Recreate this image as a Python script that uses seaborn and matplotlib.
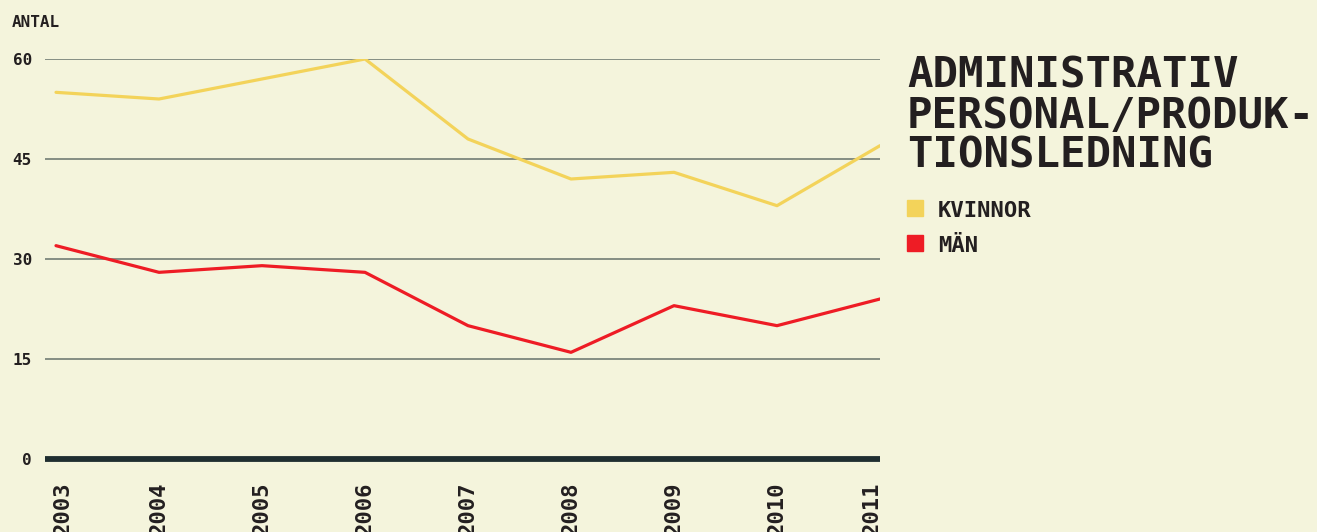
import matplotlib
matplotlib.use("Agg")
import matplotlib.pyplot as plt
import matplotlib.transforms as mtransforms
from matplotlib.patches import Rectangle
import seaborn as sns
import pandas as pd

years = [2003, 2004, 2005, 2006, 2007, 2008, 2009, 2010, 2011]
kvinnor = [55, 54, 57, 60, 48, 42, 43, 38, 47]
man = [32, 28, 29, 28, 20, 16, 23, 20, 24]
series_names = ["KVINNOR", "MÄN"]
y_ticks = [0, 15, 30, 45, 60]
title_lines = ["ADMINISTRATIV", "PERSONAL/PRODUK-", "TIONSLEDNING"]
y_label = "ANTAL"

BG = "#f4f4dc"
TXT = "#231f20"
YEL = "#f3d35a"
RED = "#ee1c25"
GRID = "#7c867c"
ZERO = "#1f2e30"

sns.set_theme(style="white")
plt.rcParams["font.family"] = ["DejaVu Sans Mono"]
plt.rcParams["font.weight"] = "bold"

W, H = 1317, 532
fig = plt.figure(figsize=(W / 100, H / 100), dpi=100, facecolor=BG)
ax = fig.add_axes([45 / W, 1 - 459 / H, (880 - 45) / W, 400 / H])
ax.set_facecolor(BG)

df = pd.DataFrame({
    "year": years * 2,
    "value": kvinnor + man,
    "series": [series_names[0]] * len(years) + [series_names[1]] * len(years),
})
sns.lineplot(data=df, x="year", y="value", hue="series",
             palette={series_names[0]: YEL, series_names[1]: RED},
             linewidth=2.3, ax=ax, legend=False, zorder=3)

ax.set_xlim(years[0] - 11 / 103, years[-1])
ax.set_ylim(0, 60)
for s in ax.spines.values():
    s.set_visible(False)

ax.set_yticks(y_ticks)
ax.set_yticklabels([str(v) for v in y_ticks])
ax.yaxis.grid(True, color=GRID, linewidth=1.3)
ax.xaxis.grid(False)
ax.axhline(0, color=ZERO, linewidth=4.2, clip_on=False, zorder=4,
           solid_capstyle="butt")
ax.tick_params(axis="y", length=0, pad=9.4, labelsize=11.5, labelcolor=TXT)
ax.set_xticks(years)
ax.set_xticklabels([str(y) for y in years], rotation=90)
ax.tick_params(axis="x", length=0, pad=16.5, labelsize=16, labelcolor=TXT)
for lab in ax.get_xticklabels():
    lab.set_fontweight("bold")
for lab in ax.get_yticklabels():
    lab.set_fontweight("bold")
labs = ax.get_xticklabels()
labs[0].set_transform(labs[0].get_transform() + mtransforms.ScaledTranslation(7 / 100, 0, fig.dpi_scale_trans))
labs[-1].set_transform(labs[-1].get_transform() + mtransforms.ScaledTranslation(-8 / 100, 0, fig.dpi_scale_trans))
ax.set_xlabel("")
ax.set_ylabel("")

fig.text(12 / W, 1 - 27 / H, y_label, fontsize=11.5, fontweight="bold",
         color=TXT, ha="left", va="baseline")

for i, line in enumerate(title_lines):
    fig.text(907 / W, 1 - (88 + 40 * i) / H, line, fontsize=30.5,
             fontweight="bold", color=TXT, ha="left", va="baseline")

for i, (name, col) in enumerate(zip(series_names, [YEL, RED])):
    top = 200 + 35 * i
    fig.patches.append(Rectangle((907 / W, 1 - (top + 16) / H), 16 / W, 16 / H,
                                 transform=fig.transFigure, color=col))
    fig.text(938 / W, 1 - (top + 17) / H, name, fontsize=16,
             fontweight="bold", color=TXT, ha="left", va="baseline")

fig.savefig("out.png", dpi=100, facecolor=BG)
